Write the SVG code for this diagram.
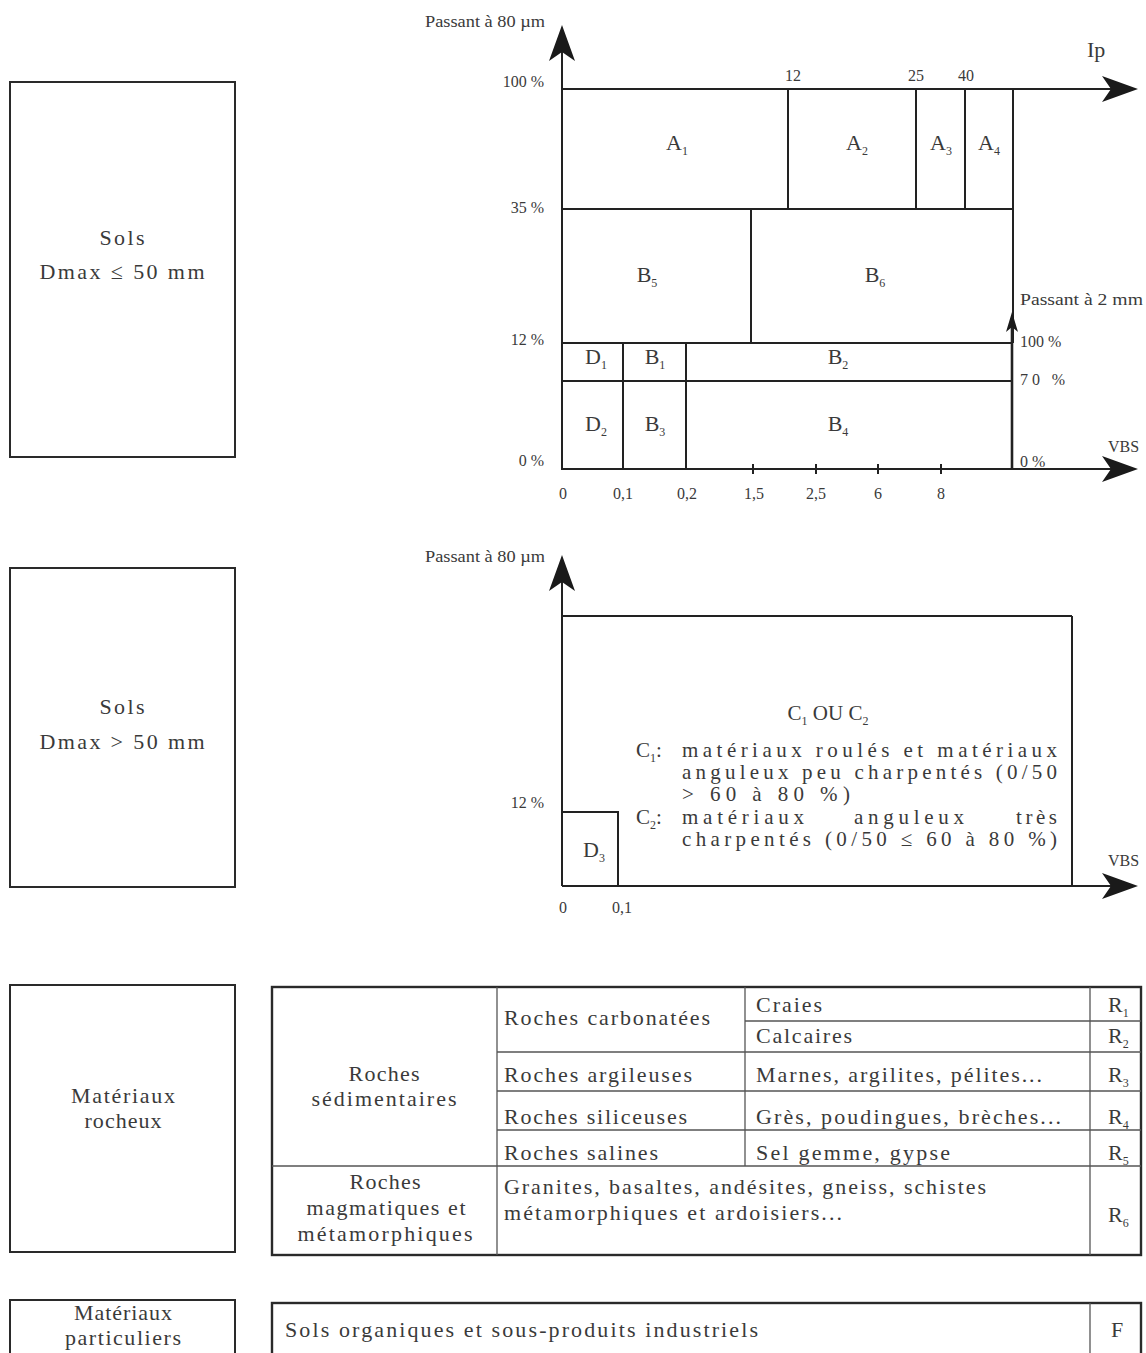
<svg xmlns="http://www.w3.org/2000/svg" width="1146" height="1353" viewBox="0 0 1146 1353">
<defs>
<style>
.bx{fill:none;stroke:#2a2a2a;stroke-width:2}
.ln{stroke:#222;stroke-width:2;fill:none}
.tk{stroke:#222;stroke-width:2.6;fill:none}
.tn{stroke:#555;stroke-width:1.3;fill:none}
.ob{fill:none;stroke:#2a2a2a;stroke-width:2.4}
text{font-family:"Liberation Serif","Times New Roman",serif;fill:#3a3a3a}
.lab{font-size:22px}
.ax{font-size:16px}
.cell{font-size:22px;text-anchor:middle}
.mid{text-anchor:middle}
.end{text-anchor:end}
.sub{font-size:12px}
.par{font-size:21px}
</style>
<marker id="ah" markerUnits="userSpaceOnUse" orient="auto" viewBox="0 0 36 26" refX="26" refY="13" markerWidth="36" markerHeight="26"><path d="M0,0 L36,13 L0,26 L9,13 Z" fill="#1a1a1a"/></marker>
<marker id="ahs" markerUnits="userSpaceOnUse" orient="auto" viewBox="0 0 20 12" refX="14" refY="6" markerWidth="20" markerHeight="12"><path d="M0,0 L20,6 L0,12 L5,6 Z" fill="#1a1a1a"/></marker>
</defs>
<rect width="1146" height="1353" fill="#ffffff"/>

<!-- Left category boxes -->
<g id="box-sols-50">
<rect class="bx" x="10" y="82" width="225" height="375"/>
<text class="lab mid" x="122" y="245" textLength="45">Sols</text>
<text class="lab mid" x="122" y="279" textLength="165">Dmax ≤ 50 mm</text>
</g>
<g id="box-sols-gt50">
<rect class="bx" x="10" y="568" width="225" height="319"/>
<text class="lab mid" x="122" y="714" textLength="45">Sols</text>
<text class="lab mid" x="122" y="749" textLength="165">Dmax &gt; 50 mm</text>
</g>
<g id="box-rocheux">
<rect class="bx" x="10" y="985" width="225" height="267"/>
<text class="lab mid" x="123" y="1103" textLength="104">Matériaux</text>
<text class="lab mid" x="123" y="1128" textLength="77">rocheux</text>
</g>
<g id="box-particuliers">
<rect class="bx" x="10" y="1300" width="225" height="70"/>
<text class="lab mid" x="123" y="1320" textLength="98">Matériaux</text>
<text class="lab mid" x="123" y="1345" textLength="116">particuliers</text>
</g>

<!-- Chart 1 : Sols Dmax <= 50 mm -->
<g id="chart1">
<text x="425" y="27" textLength="120" lengthAdjust="spacingAndGlyphs" style="font-size:17px">Passant à 80 µm</text>
<text class="ax end" x="544" y="87">100 %</text>
<text class="ax end" x="544" y="213">35 %</text>
<text class="ax end" x="544" y="345">12 %</text>
<text class="ax end" x="544" y="466">0 %</text>
<text class="ax mid" x="793" y="81">12</text>
<text class="ax mid" x="916" y="81">25</text>
<text class="ax mid" x="966" y="81">40</text>
<text x="1087" y="57" style="font-size:22px">Ip</text>
<text x="1020" y="305" textLength="123" lengthAdjust="spacingAndGlyphs" style="font-size:17px">Passant à 2 mm</text>
<text class="ax" x="1020" y="347">100 %</text>
<text class="ax" x="1020" y="385" textLength="45">70 %</text>
<text class="ax" x="1020" y="467">0 %</text>
<text class="ax" x="1108" y="452">VBS</text>
<text class="ax mid" x="563" y="499">0</text>
<text class="ax mid" x="623" y="499">0,1</text>
<text class="ax mid" x="687" y="499">0,2</text>
<text class="ax mid" x="754" y="499">1,5</text>
<text class="ax mid" x="816" y="499">2,5</text>
<text class="ax mid" x="878" y="499">6</text>
<text class="ax mid" x="941" y="499">8</text>
<!-- grid -->
<line class="ln" x1="788" y1="89" x2="788" y2="209"/>
<line class="ln" x1="916" y1="89" x2="916" y2="209"/>
<line class="ln" x1="965" y1="89" x2="965" y2="209"/>
<line class="ln" x1="1013" y1="89" x2="1013" y2="343"/>
<line class="ln" x1="562" y1="209" x2="1013" y2="209"/>
<line class="ln" x1="751" y1="209" x2="751" y2="343"/>
<line class="ln" x1="562" y1="343" x2="1012" y2="343"/>
<line class="ln" x1="562" y1="381" x2="1012" y2="381"/>
<line class="ln" x1="623" y1="343" x2="623" y2="469"/>
<line class="ln" x1="686" y1="343" x2="686" y2="469"/>
<line class="ln" x1="753" y1="464" x2="753" y2="474"/>
<line class="ln" x1="816" y1="464" x2="816" y2="474"/>
<line class="ln" x1="878" y1="464" x2="878" y2="474"/>
<line class="ln" x1="941" y1="464" x2="941" y2="474"/>
<!-- cell labels -->
<text class="cell" x="677" y="150">A<tspan class="sub" dy="5">1</tspan></text>
<text class="cell" x="857" y="150">A<tspan class="sub" dy="5">2</tspan></text>
<text class="cell" x="941" y="150">A<tspan class="sub" dy="5">3</tspan></text>
<text class="cell" x="989" y="150">A<tspan class="sub" dy="5">4</tspan></text>
<text class="cell" x="647" y="282">B<tspan class="sub" dy="5">5</tspan></text>
<text class="cell" x="875" y="282">B<tspan class="sub" dy="5">6</tspan></text>
<text class="cell" x="596" y="364">D<tspan class="sub" dy="5">1</tspan></text>
<text class="cell" x="655" y="364">B<tspan class="sub" dy="5">1</tspan></text>
<text class="cell" x="838" y="364">B<tspan class="sub" dy="5">2</tspan></text>
<text class="cell" x="596" y="431">D<tspan class="sub" dy="5">2</tspan></text>
<text class="cell" x="655" y="431">B<tspan class="sub" dy="5">3</tspan></text>
<text class="cell" x="838" y="431">B<tspan class="sub" dy="5">4</tspan></text>
</g>

<!-- Chart 2 : Sols Dmax > 50 mm -->
<g id="chart2">
<text x="425" y="562" textLength="120" lengthAdjust="spacingAndGlyphs" style="font-size:17px">Passant à 80 µm</text>
<text class="ax end" x="544" y="808">12 %</text>
<text class="ax" x="1108" y="866">VBS</text>
<text class="ax mid" x="563" y="913">0</text>
<text class="ax mid" x="622" y="913">0,1</text>
<line class="ln" x1="562" y1="616" x2="1072" y2="616"/>
<line class="ln" x1="1072" y1="616" x2="1072" y2="886"/>
<polyline class="ln" points="562,812 618,812 618,886"/>
<text class="cell" x="594" y="857">D<tspan class="sub" dy="5">3</tspan></text>
<text class="mid" x="828" y="720" style="font-size:21px">C<tspan class="sub" dy="5">1</tspan><tspan dy="-5"> OU C</tspan><tspan class="sub" dy="5">2</tspan></text>
<text class="par" x="636" y="757">C<tspan class="sub" dy="5">1</tspan><tspan dy="-5">:</tspan></text>
<text class="par" x="682" y="757" textLength="375" lengthAdjust="spacing">matériaux roulés et matériaux</text>
<text class="par" x="682" y="779" textLength="375" lengthAdjust="spacing">anguleux peu charpentés (0/50</text>
<text class="par" x="682" y="801" textLength="168" lengthAdjust="spacing">&gt; 60 à 80 %)</text>
<text class="par" x="636" y="824">C<tspan class="sub" dy="5">2</tspan><tspan dy="-5">:</tspan></text>
<text class="par" x="682" y="824" textLength="122" lengthAdjust="spacing">matériaux</text>
<text class="par" x="854" y="824" textLength="110" lengthAdjust="spacing">anguleux</text>
<text class="par" x="1016" y="824" textLength="41" lengthAdjust="spacing">très</text>
<text class="par" x="682" y="846" textLength="375" lengthAdjust="spacing">charpentés (0/50 ≤ 60 à 80 %)</text>
</g>

<!-- Table : matériaux rocheux -->
<g id="table-rocheux">
<rect class="ob" x="272" y="987" width="869" height="268"/>
<line class="tn" x1="497" y1="987" x2="497" y2="1255"/>
<line class="tn" x1="745" y1="987" x2="745" y2="1166"/>
<line class="tn" x1="1090" y1="987" x2="1090" y2="1255"/>
<line class="tn" x1="745" y1="1021" x2="1141" y2="1021"/>
<line class="tn" x1="497" y1="1052" x2="1141" y2="1052"/>
<line class="tn" x1="497" y1="1091" x2="1141" y2="1091"/>
<line class="tn" x1="497" y1="1130" x2="1141" y2="1130"/>
<line class="tn" x1="272" y1="1166" x2="1141" y2="1166"/>
<text class="lab mid" x="384" y="1081" textLength="71">Roches</text>
<text class="lab mid" x="384" y="1106" textLength="145">sédimentaires</text>
<text class="lab mid" x="385" y="1189" textLength="71">Roches</text>
<text class="lab mid" x="386" y="1215" textLength="159">magmatiques et</text>
<text class="lab mid" x="385" y="1241" textLength="175">métamorphiques</text>
<text class="lab" x="504" y="1025" textLength="206">Roches carbonatées</text>
<text class="lab" x="504" y="1082" textLength="188">Roches argileuses</text>
<text class="lab" x="504" y="1124" textLength="183">Roches siliceuses</text>
<text class="lab" x="504" y="1160" textLength="154">Roches salines</text>
<text class="lab" x="504" y="1194" textLength="482">Granites, basaltes, andésites, gneiss, schistes</text>
<text class="lab" x="504" y="1220" textLength="338">métamorphiques et ardoisiers...</text>
<text class="lab" x="756" y="1012" textLength="66">Craies</text>
<text class="lab" x="756" y="1043" textLength="96">Calcaires</text>
<text class="lab" x="756" y="1082" textLength="286">Marnes, argilites, pélites...</text>
<text class="lab" x="756" y="1124" textLength="305">Grès, poudingues, brèches...</text>
<text class="lab" x="756" y="1160" textLength="194">Sel gemme, gypse</text>
<text class="lab" x="1108" y="1012">R<tspan class="sub" dy="5">1</tspan></text>
<text class="lab" x="1108" y="1043">R<tspan class="sub" dy="5">2</tspan></text>
<text class="lab" x="1108" y="1082">R<tspan class="sub" dy="5">3</tspan></text>
<text class="lab" x="1108" y="1124">R<tspan class="sub" dy="5">4</tspan></text>
<text class="lab" x="1108" y="1160">R<tspan class="sub" dy="5">5</tspan></text>
<text class="lab" x="1108" y="1222">R<tspan class="sub" dy="5">6</tspan></text>
</g>

<!-- Table : matériaux particuliers -->
<g id="table-particuliers">
<rect class="ob" x="272" y="1303" width="869" height="70"/>
<line class="tn" x1="1090" y1="1303" x2="1090" y2="1353"/>
<text class="lab" x="285" y="1337" textLength="473">Sols organiques et sous-produits industriels</text>
<text class="lab" x="1111" y="1337">F</text>
</g>

<!-- Axes (arrows) -->
<g id="connectors">
<line class="ln" x1="562" y1="470" x2="562" y2="35" marker-end="url(#ah)"/>
<line class="ln" x1="562" y1="89" x2="1128" y2="89" marker-end="url(#ah)"/>
<line class="ln" x1="562" y1="469" x2="1128" y2="469" marker-end="url(#ah)"/>
<line class="tk" x1="1012" y1="469" x2="1012" y2="318" marker-end="url(#ahs)"/>
<line class="ln" x1="562" y1="886" x2="562" y2="565" marker-end="url(#ah)"/>
<line class="ln" x1="562" y1="886" x2="1128" y2="886" marker-end="url(#ah)"/>
</g>
</svg>
